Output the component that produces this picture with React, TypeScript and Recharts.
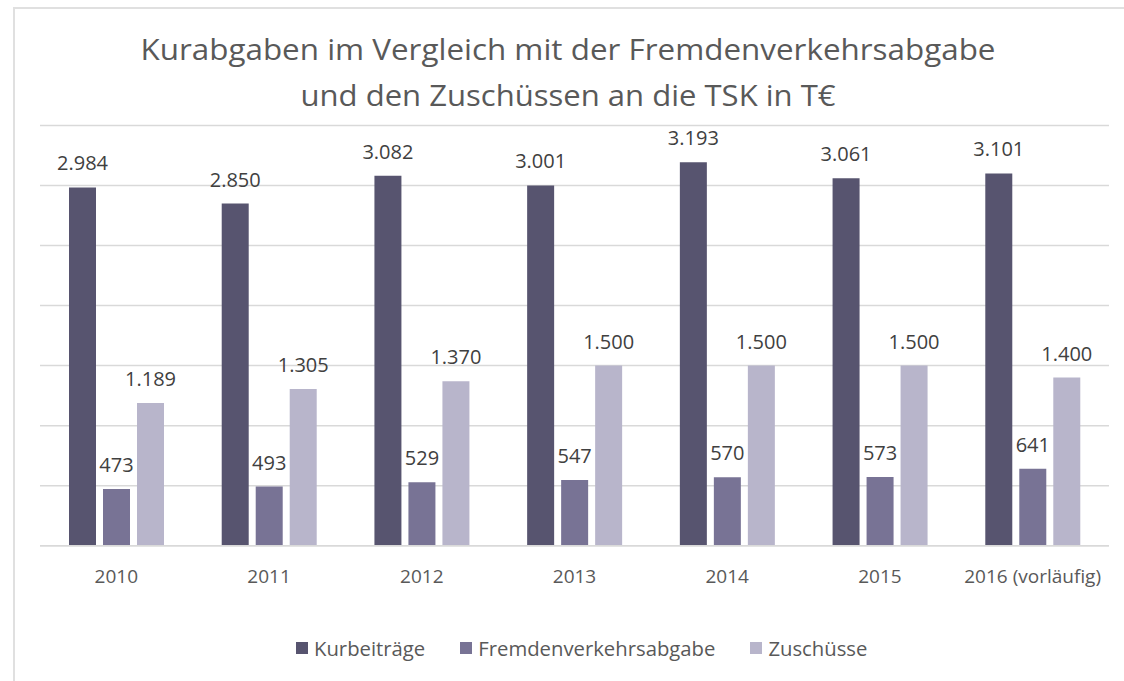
import React from 'react';
import { BarChart, Bar, XAxis, YAxis, CartesianGrid, LabelList } from 'recharts';

const categories = ['2010', '2011', '2012', '2013', '2014', '2015', '2016 (vorläufig)'];
const kurbeitraege = [2984, 2850, 3082, 3001, 3193, 3061, 3101];
const fremdenverkehrsabgabe = [473, 493, 529, 547, 570, 573, 641];
const zuschuesse = [1189, 1305, 1370, 1500, 1500, 1500, 1400];
const yTicks = [0, 500, 1000, 1500, 2000, 2500, 3000, 3500];
const titleLines = ['Kurabgaben im Vergleich mit der Fremdenverkehrsabgabe', 'und den Zuschüssen an die TSK in T€'];

const seriesDefs = [
  { key: 'k', name: 'Kurbeiträge', color: '#57546f' },
  { key: 'f', name: 'Fremdenverkehrsabgabe', color: '#787395' },
  { key: 'z', name: 'Zuschüsse', color: '#b8b5cb' },
];

const data = categories.map((c, i) => ({
  cat: c,
  k: kurbeitraege[i],
  f: fremdenverkehrsabgabe[i],
  z: zuschuesse[i],
}));

const FONT = '"Open Sans", "Liberation Sans", sans-serif';

const fmt = (v: any) => {
  const n = Number(v);
  const s = String(Math.round(n));
  return s.replace(/\B(?=(\d{3})+(?!\d))/g, '.');
};

const LegendContent = () => (
  <div style={{ display: 'flex', justifyContent: 'flex-start', paddingLeft: 296, fontFamily: FONT, fontSize: 20.3, color: '#595959' }}>
    {seriesDefs.map((s, i) => (
      <div key={s.key} style={{ display: 'flex', alignItems: 'center', marginLeft: i === 0 ? 0 : 35 }}>
        <span style={{ width: 12, height: 12, background: s.color, display: 'inline-block', marginRight: 6 }} />
        <span>{s.name}</span>
      </div>
    ))}
  </div>
);

export default function App() {
  return (
    <div style={{ position: 'absolute', left: 0, top: 0, width: 1124, height: 681, background: '#fff', overflow: 'hidden' }}>
      <div style={{ position: 'absolute', left: 13, top: 7, right: -5, bottom: -5, borderTop: '2px solid #e0e0e0', borderLeft: '2px solid #e0e0e0' }} />
      <svg width={1124} height={130} style={{ position: 'absolute', left: 0, top: 0 }}>
        <text x={568} y={60} textAnchor="middle" fontFamily={FONT} fontSize={29} fill="#595959" textLength={855} lengthAdjust="spacingAndGlyphs">{titleLines[0]}</text>
        <text x={568} y={106} textAnchor="middle" fontFamily={FONT} fontSize={29} fill="#595959" textLength={535} lengthAdjust="spacingAndGlyphs">{titleLines[1]}</text>
      </svg>
      <div style={{ position: 'absolute', left: 0, top: 0 }}>
        <BarChart
          width={1124}
          height={681}
          data={data}
          margin={{ top: 125.5, right: 15, bottom: 105.3, left: 40 }}
          barSize={27}
          barGap={7}
        >
          <CartesianGrid vertical={false} stroke="#d9d9d9" strokeWidth={1.5} />
          <XAxis
            dataKey="cat"
            height={30}
            axisLine={{ stroke: '#d9d9d9', strokeWidth: 1.5 }}
            tickLine={false}
            tick={{ fill: '#595959', fontSize: 19, fontFamily: FONT }}
            tickMargin={18}
            interval={0}
          />
          <YAxis hide domain={[0, 3500]} ticks={yTicks} />
          {seriesDefs.map((s) => (
            <Bar key={s.key} dataKey={s.key} name={s.name} fill={s.color} isAnimationActive={false}>
              <LabelList
                dataKey={s.key}
                position="top"
                offset={17}
                formatter={fmt}
                style={{ fill: '#404040', fontSize: 20, fontFamily: FONT }}
              />
            </Bar>
          ))}
        </BarChart>
      </div>
      <div style={{ position: 'absolute', left: 0, top: 634, width: 1124 }}>
        <LegendContent />
      </div>
    </div>
  );
}
